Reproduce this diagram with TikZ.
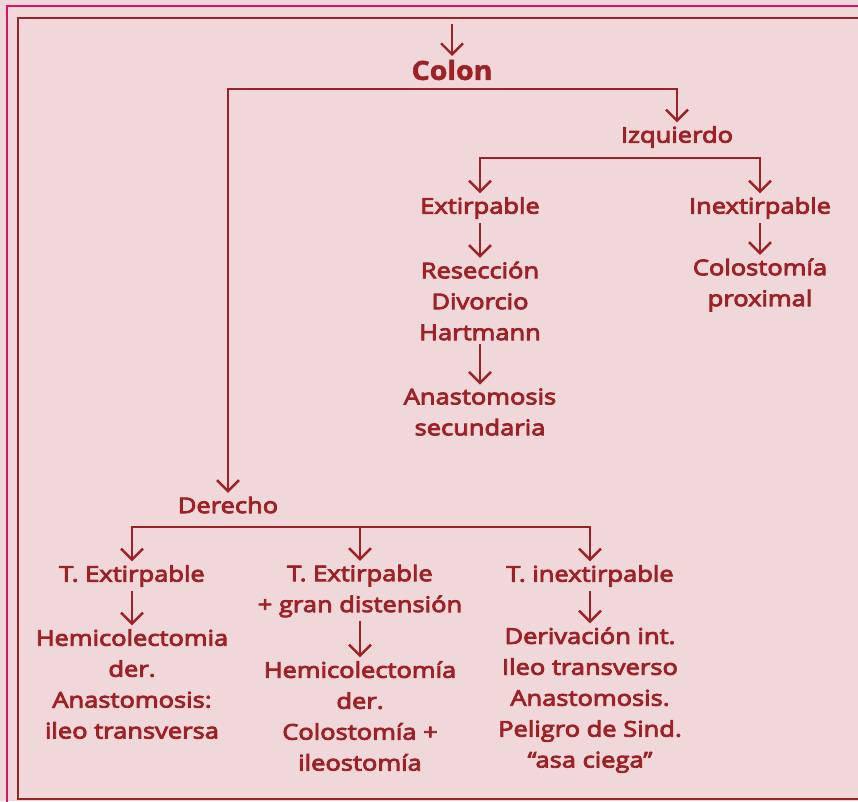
\documentclass[tikz,border=0pt]{standalone}
\usepackage{fontspec}
\setmainfont{Open Sans}[FakeStretch=1.18,FakeBold=4]
\newfontfamily\titlefont{Open Sans}[FakeStretch=1.08,FakeBold=2]
\usetikzlibrary{arrows.meta,positioning}
\definecolor{scanred}{RGB}{156,34,38}
\definecolor{paperpink}{RGB}{240,216,218}
\definecolor{framemagenta}{RGB}{214,22,110}

\begin{document}
\begin{tikzpicture}[x=0.02cm,y=-0.02cm,
    box/.style={text=scanred,font=\fontsize{12.3}{17.6}\selectfont,align=center,inner sep=2pt},
    arr/.style={draw=scanred,line width=1.4pt,-{Straight Barb[length=0.22cm,width=0.44cm]}}]
        \useasboundingbox (0,0) rectangle (858,801);
        %Paper
        \fill[paperpink] (0,0) rectangle (858,801);
        \draw[framemagenta,line width=1.5pt] (7,810) -- (7,6) -- (870,6);
        \draw[scanred,line width=1.1pt] (870,18) -- (18,18) -- (18,799) -- (870,799);
        %Nodes
        \node[box,font=\titlefont\bfseries\fontsize{15}{17}\selectfont] (colon) at (452,70) {Colon};
        \node[box] (izq) at (677,137) {Izquierdo};
        \node[box] (ext) at (480,208) {Extirpable};
        \node[box] (inext) at (760,208) {Inextirpable};
        \node[box] (resec) at (480,301) {Resección\\Divorcio\\Hartmann};
        \node[box] (anast) at (480,412) {Anastomosis\\secundaria};
        \node[box] (colost) at (760,285) {Colostomía\\proximal};
        \node[box] (der) at (228,505) {Derecho};
        \node[box] (tex1) at (132,576) {T. Extirpable};
        \node[box] (tex2) at (360,591) {T. Extirpable\\+ gran distensión};
        \node[box] (tinex) at (590,576) {T. inextirpable};
        \node[box] (hemi1) at (132,684) {Hemicolectomia\\der.\\Anastomosis:\\ileo transversa};
        \node[box] (hemi2) at (360,716) {Hemicolectomía\\der.\\Colostomía +\\ileostomía};
        \node[box] (deriv) at (590,700) {Derivación int.\\Ileo transverso\\Anastomosis.\\Peligro de Sind.\\“asa ciega”};
        %Splits
        \coordinate (entry) at (452,24);
        \coordinate (splitA) at (452,89);
        \coordinate (splitB) at (620,158);
        \coordinate (splitC) at (360,527);
        %Arrows
        \draw[arr] (entry) -- (colon);
        \draw[arr] (splitA) -| (izq);
        \draw[arr] (splitA) -| (der);
        \draw[arr] (splitB) -| (ext);
        \draw[arr] (splitB) -| (inext);
        \draw[arr] (ext) -- (resec);
        \draw[arr] (resec) -- (anast);
        \draw[arr] (inext) -- (colost);
        \draw[arr] (splitC) -| (tex1);
        \draw[arr] (splitC) -- (tex2);
        \draw[arr] (splitC) -| (tinex);
        \draw[arr] (tex1) -- (hemi1);
        \draw[arr] (tex2) -- (hemi2);
        \draw[arr] (tinex) -- (deriv);
\end{tikzpicture}
\end{document}
